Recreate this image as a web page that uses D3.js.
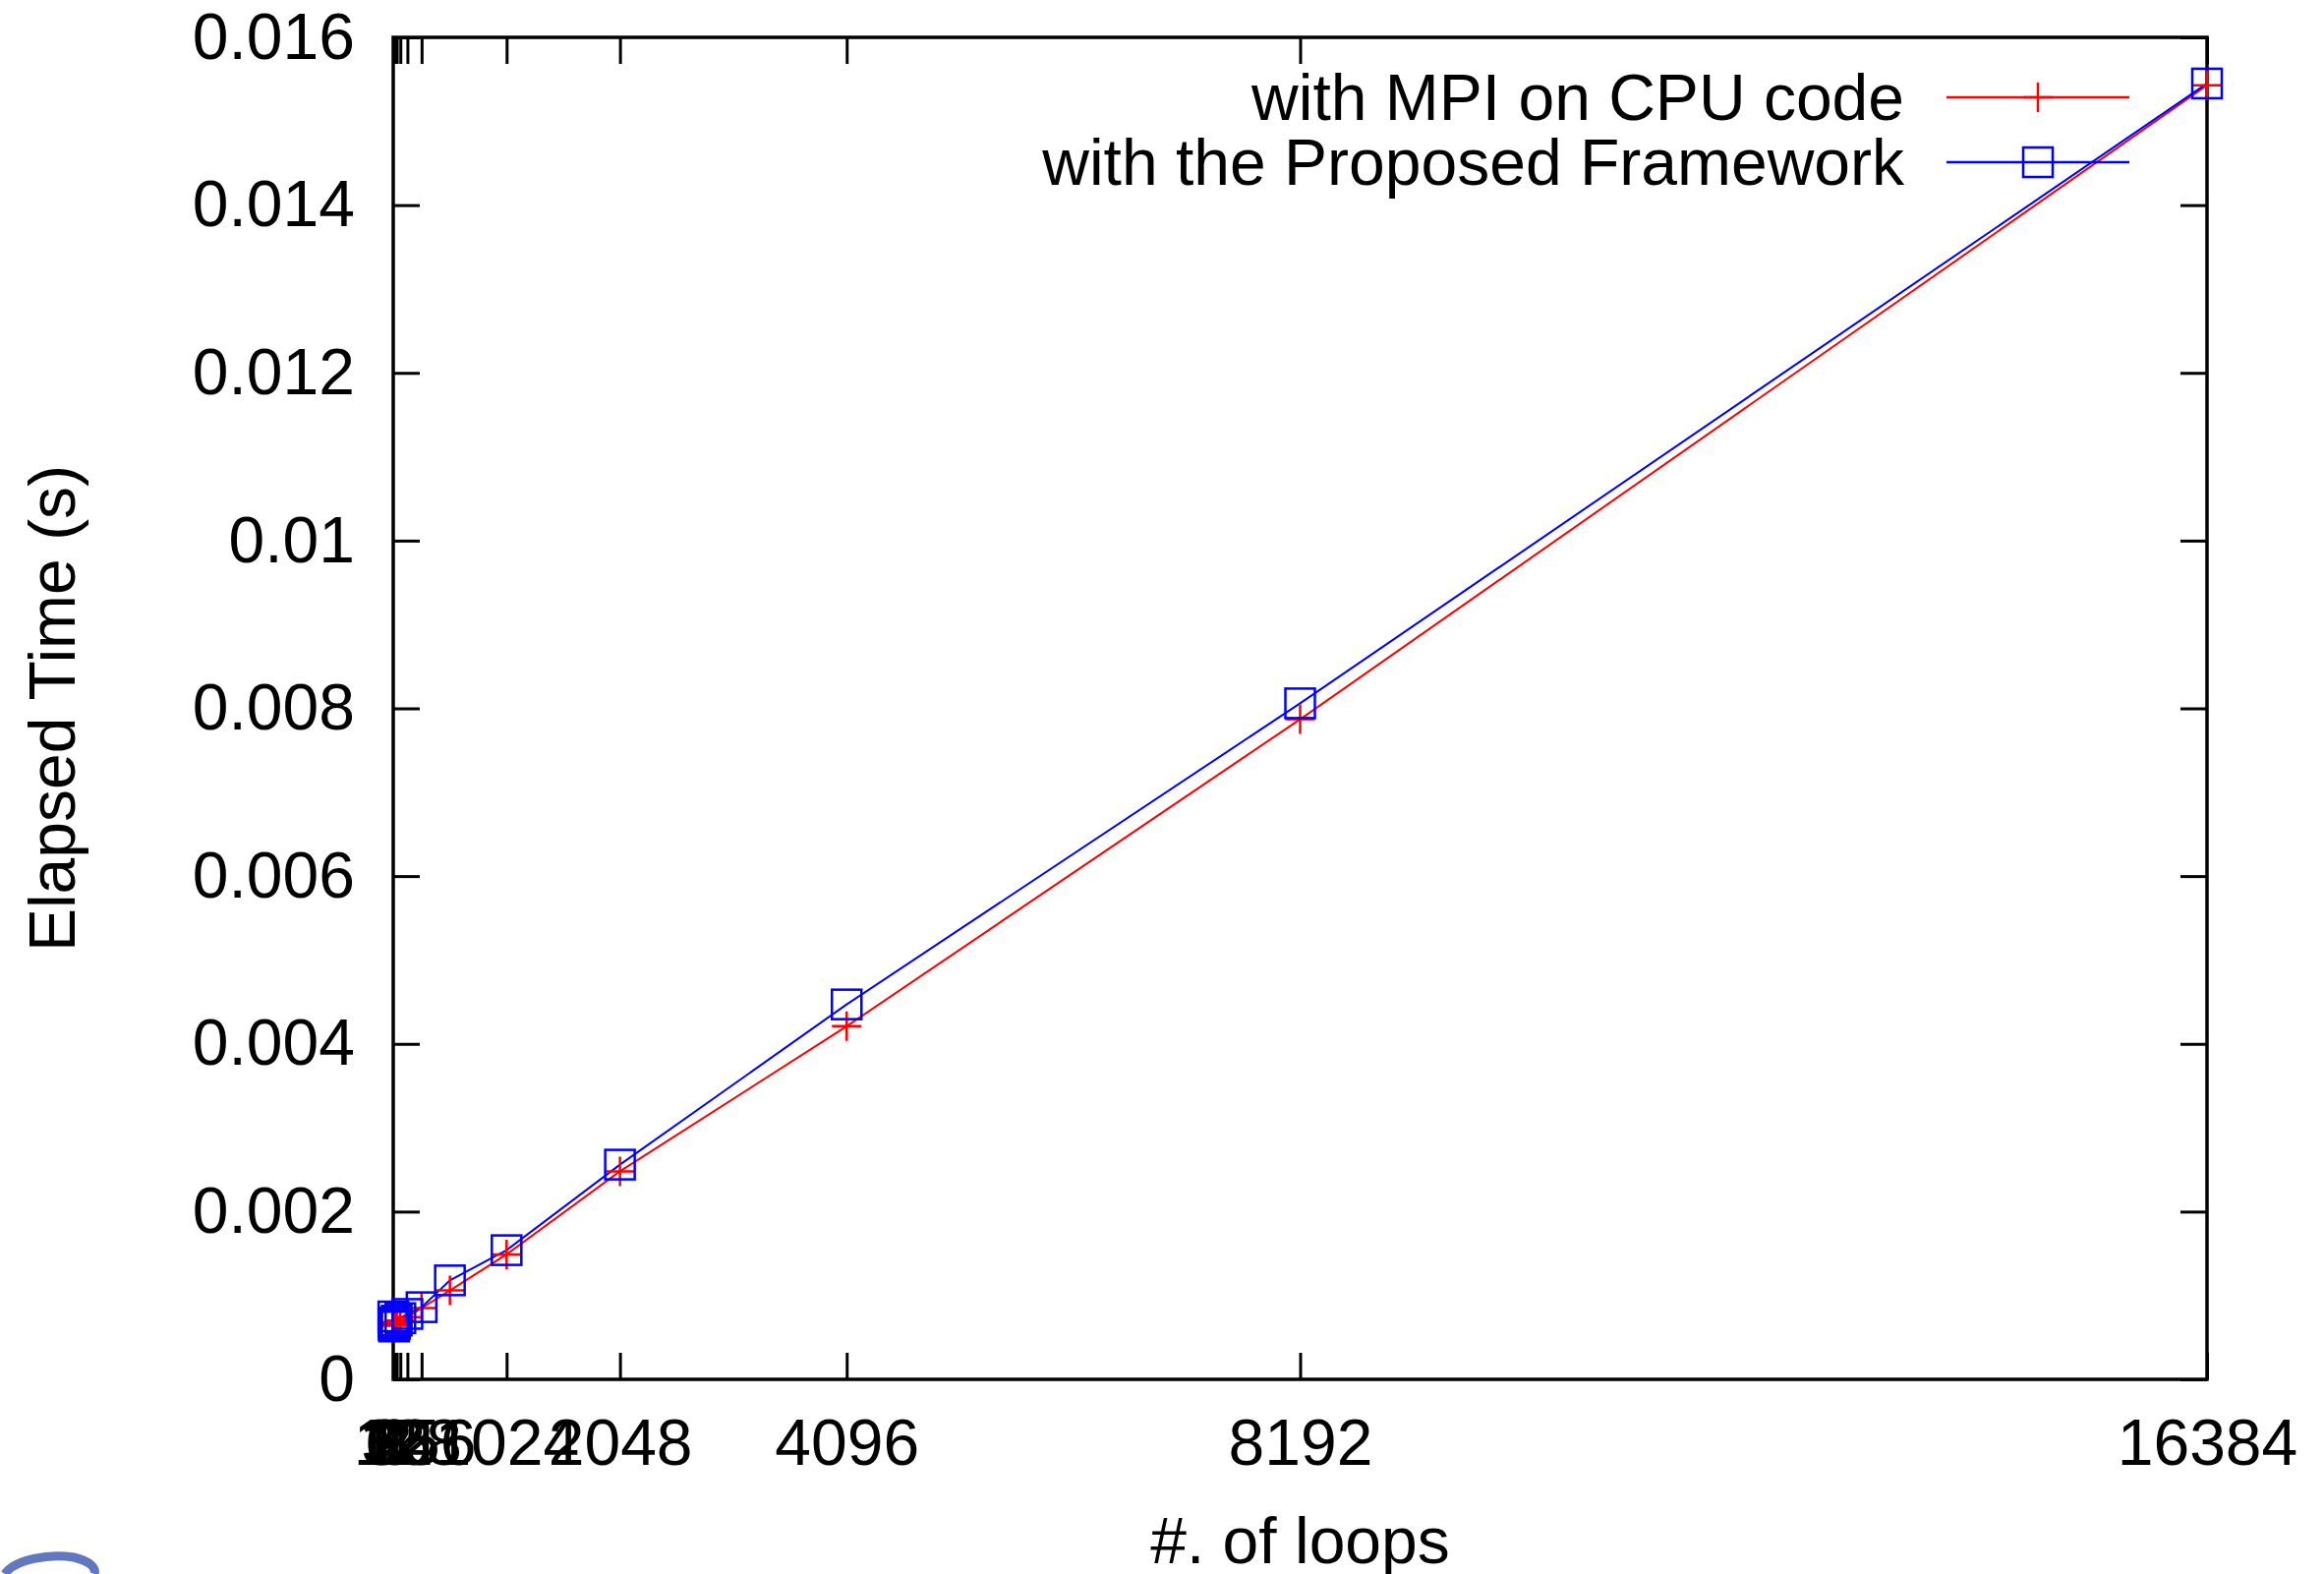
<!DOCTYPE html>
<html>
<head>
<meta charset="utf-8">
<script src="https://cdn.jsdelivr.net/npm/d3@7"></script>
<style>
	body { margin: 0; background: #fff; }
	text { font-family: "Liberation Sans", Arial, sans-serif; fill: #000; }
</style>
</head>
<body>
<svg></svg>
<script>
// # of loops
const loops = [1, 2, 4, 8, 16, 32, 64, 128, 256, 512, 1024, 2048, 4096, 8192, 16384]
// elapsed time (s)
const mpiCpu = [0.00068, 0.00066, 0.00064, 0.00065, 0.00066, 0.00068, 0.00070, 0.00074, 0.00085, 0.00106, 0.00149, 0.00248, 0.00421, 0.00787, 0.01543]
const framework = [0.00075, 0.00068, 0.00065, 0.00063, 0.00066, 0.00070, 0.00073, 0.00078, 0.00086, 0.00118, 0.00154, 0.00256, 0.00447, 0.00806, 0.01545]
const xTicks = [1, 2, 4, 8, 16, 32, 64, 128, 256, 1024, 2048, 4096, 8192, 16384]
const yTicks = [0, 0.002, 0.004, 0.006, 0.008, 0.01, 0.012, 0.014, 0.016]
const seriesNames = ["with MPI on CPU code", "with the Proposed Framework"]

const width = 2364
const height = 1601
const plotL = 400, plotR = 2245, plotT = 38, plotB = 1403

const svg = d3.select("svg")
	.attr("width", width)
	.attr("height", height)

const x = d3.scaleLinear()
	.domain([0, 16384])
	.range([plotL, plotR])

const y = d3.scaleLinear()
	.domain([0, 0.016])
	.range([plotB, plotT])

const fmt = (d) => { return d === 0 ? "0" : String(+d.toFixed(3)) }
const tickLen = 27

// ticks on all four sides, gnuplot style (labels only bottom / left)
const axes = svg.append("g").attr("class", "axes")

axes.append("g")
	.attr("transform", `translate(0, ${plotB})`)
	.call(d3.axisBottom(x).tickValues(xTicks).tickSizeInner(-tickLen).tickSizeOuter(0).tickFormat(d3.format("d")).tickPadding(40))
axes.append("g")
	.attr("transform", `translate(0, ${plotT})`)
	.call(d3.axisTop(x).tickValues(xTicks).tickSizeInner(-tickLen).tickSizeOuter(0).tickFormat(""))
axes.append("g")
	.attr("transform", `translate(${plotL}, 0)`)
	.call(d3.axisLeft(y).tickValues(yTicks).tickSizeInner(-tickLen).tickSizeOuter(0).tickFormat(fmt).tickPadding(tickLen + 12))
axes.append("g")
	.attr("transform", `translate(${plotR}, 0)`)
	.call(d3.axisRight(y).tickValues(yTicks).tickSizeInner(-tickLen).tickSizeOuter(0).tickFormat(""))

axes.selectAll(".domain").remove()
axes.selectAll(".tick line")
	.attr("stroke", "#000")
	.attr("stroke-width", 3)
axes.selectAll(".tick text")
	.style("font-size", "66px")
	.attr("fill", "#000")

// frame
svg.append("rect")
	.attr("x", plotL)
	.attr("y", plotT)
	.attr("width", plotR - plotL)
	.attr("height", plotB - plotT)
	.attr("fill", "none")
	.attr("stroke", "#000")
	.attr("stroke-width", 3.5)

const line = d3.line()
	.x((d) => { return x(d[0]) })
	.y((d) => { return y(d[1]) })

const redPts = loops.map((d, i) => { return [d, mpiCpu[i]] })
const bluePts = loops.map((d, i) => { return [d, framework[i]] })

svg.append("path")
	.datum(redPts)
	.attr("d", line)
	.attr("fill", "none")
	.attr("stroke", "#ff0000")
	.attr("stroke-width", 2)

svg.append("path")
	.datum(bluePts)
	.attr("d", line)
	.attr("fill", "none")
	.attr("stroke", "#0000ff")
	.attr("stroke-width", 2)

const ms = 15 // half marker size

svg.append("g")
	.selectAll("path")
	.data(redPts)
	.enter()
	.append("path")
	.attr("d", (d) => {
		const cx = x(d[0]), cy = y(d[1])
		return `M${cx - ms},${cy}H${cx + ms}M${cx},${cy - ms}V${cy + ms}`
	})
	.attr("stroke", "#ff0000")
	.attr("stroke-width", 2.5)

svg.append("g")
	.selectAll("rect")
	.data(bluePts)
	.enter()
	.append("rect")
	.attr("x", (d) => { return x(d[0]) - ms })
	.attr("y", (d) => { return y(d[1]) - ms })
	.attr("width", ms * 2)
	.attr("height", ms * 2)
	.attr("fill", "none")
	.attr("stroke", "#0000ff")
	.attr("stroke-width", 2.5)

// legend
const legendRows = svg.append("g")
	.selectAll("g")
	.data(seriesNames)
	.enter()
	.append("g")
	.attr("transform", (d, i) => { return `translate(0, ${99 + i * 66})` })

legendRows.append("text")
	.attr("x", 1937)
	.attr("y", 0)
	.attr("dy", "0.35em")
	.attr("text-anchor", "end")
	.style("font-size", "66px")
	.text((d) => { return d })

legendRows.append("line")
	.attr("x1", 1980)
	.attr("x2", 2166)
	.attr("stroke", (d, i) => { return i === 0 ? "#ff0000" : "#0000ff" })
	.attr("stroke-width", 2.5)

legendRows.append("path")
	.attr("d", (d, i) => {
		const cx = 2073
		return i === 0
			? `M${cx - ms},0H${cx + ms}M${cx},${-ms}V${ms}`
			: `M${cx - ms},${-ms}H${cx + ms}V${ms}H${cx - ms}Z`
	})
	.attr("fill", "none")
	.attr("stroke", (d, i) => { return i === 0 ? "#ff0000" : "#0000ff" })
	.attr("stroke-width", 2.5)

// axis titles
svg.append("text")
	.attr("x", (plotL + plotR) / 2)
	.attr("y", 1590)
	.attr("text-anchor", "middle")
	.style("font-size", "66px")
	.text("#. of loops")

svg.append("text")
	.attr("transform", `translate(76, ${(plotT + plotB) / 2}) rotate(-90)`)
	.attr("text-anchor", "middle")
	.style("font-size", "66px")
	.text("Elapsed Time (s)")

// bit of a logo peeking in at the bottom-left corner
svg.append("path")
	.attr("d", "M5,1601 C15,1586 50,1580 75,1584 C92,1588 98,1595 96,1601")
	.attr("fill", "none")
	.attr("stroke", "#3a55b0")
	.attr("stroke-width", 9)
	.attr("opacity", 0.8)
</script>
</body>
</html>
